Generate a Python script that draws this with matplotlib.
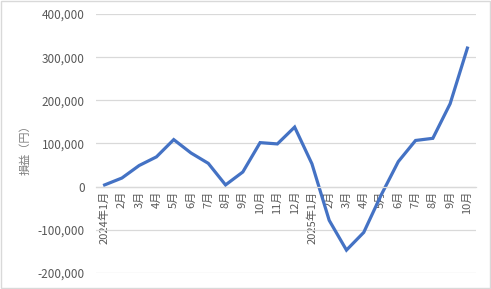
import matplotlib
matplotlib.use("Agg")
import matplotlib.pyplot as plt
from matplotlib.patches import Rectangle
from matplotlib.ticker import FuncFormatter

plt.rcParams['font.family'] = ['Noto Sans CJK JP', 'DejaVu Sans']

# data
months = ['2024年1月', '2月', '3月', '4月', '5月', '6月', '7月', '8月', '9月', '10月', '11月', '12月',
          '2025年1月', '2月', '3月', '4月', '5月', '6月', '7月', '8月', '9月', '10月']
profit = [4000, 20000, 49000, 69000, 109000, 78000, 54000, 4000, 34000, 102000, 99000, 138000,
          53000, -78000, -147000, -106000, -20000, 58000, 107000, 112000, 192000, 321000]
yticks = [-200000, -100000, 0, 100000, 200000, 300000, 400000]

fig = plt.figure(figsize=(4.91, 2.89), dpi=100)
ax = fig.add_axes([0.1955, 0.0554, 0.774, 0.8962])

x = list(range(len(months)))
ax.plot(x, profit, color='#4472C4', linewidth=2.3, solid_joinstyle='miter')

ax.set_xlim(-0.5, len(months) - 0.5)
ax.set_ylim(-200000, 400000)
ax.set_yticks(yticks)
ax.yaxis.set_major_formatter(FuncFormatter(lambda v, p: f'{int(v):,}'))
ax.grid(axis='y', color='#d9d9d9', linewidth=0.9)
ax.set_axisbelow(True)

for s in ['left', 'right', 'top']:
    ax.spines[s].set_visible(False)
ax.spines['bottom'].set_position(('data', 0))
ax.spines['bottom'].set_color('#d9d9d9')
ax.spines['bottom'].set_linewidth(0.9)

ax.set_xticks(x)
ax.set_xticklabels(months, rotation=90, va='top', ha='center')
ax.tick_params(axis='x', length=0, pad=3, labelsize=8, labelcolor='#595959')
ax.tick_params(axis='y', length=0, pad=8, labelsize=8.5, labelcolor='#595959')

ax.set_ylabel('損益（円）', color='#7f7f7f', fontsize=8)
ax.yaxis.set_label_coords(-0.171, 0.486)

# outer border
fig.patches.append(Rectangle((0.002, 0.003), 0.996, 0.994, transform=fig.transFigure,
                             fill=False, edgecolor='#d9d9d9', linewidth=1))

fig.savefig('out.png', dpi=100)
